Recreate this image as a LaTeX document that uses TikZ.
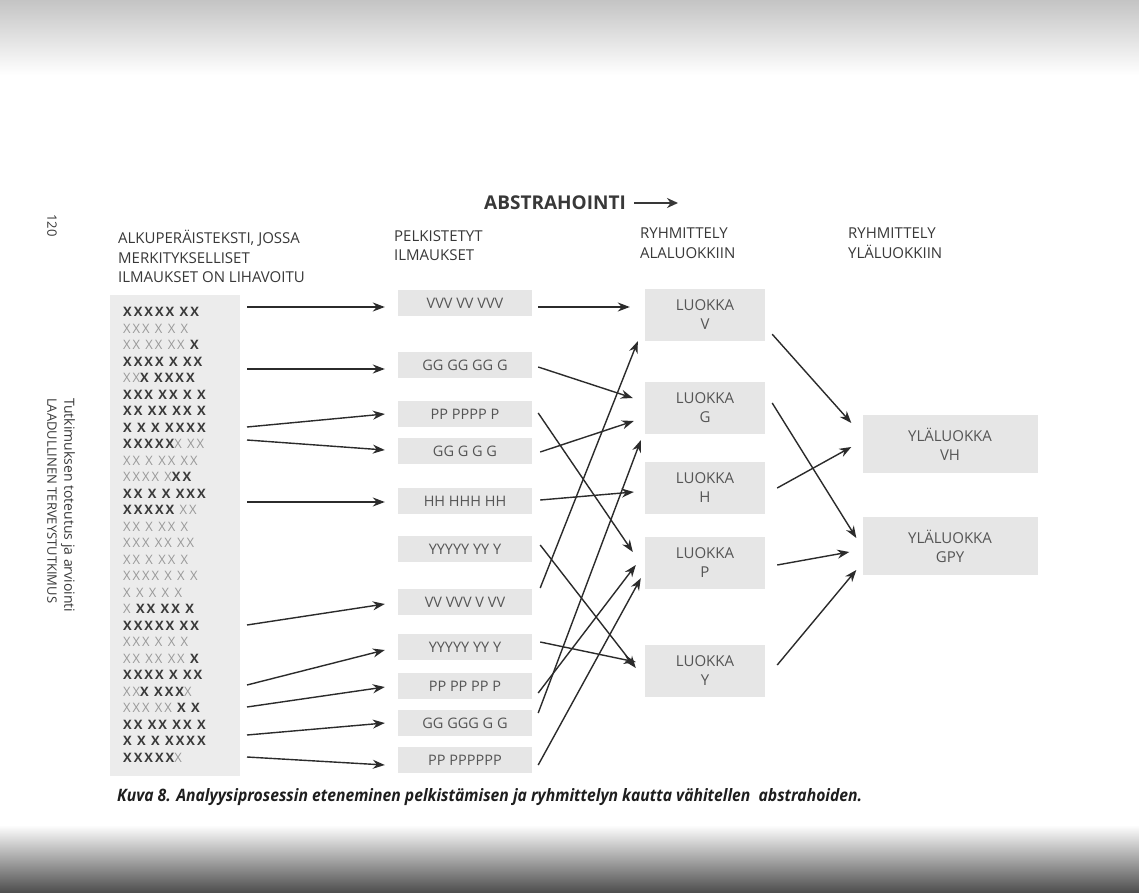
\documentclass[tikz,border=0pt]{standalone}
\usepackage{fontspec}
\setmainfont{Open Sans}
\newfontfamily\xfont[LetterSpace=15]{Open Sans}
\usepackage{graphicx}
\usetikzlibrary{arrows.meta}

\definecolor{boxgray}{HTML}{E6E6E6}
\definecolor{leftgray}{HTML}{ECECEC}
\definecolor{boxtext}{HTML}{555555}
\definecolor{headtext}{HTML}{383838}
\definecolor{xdark}{HTML}{3A3A3A}
\definecolor{xlight}{HTML}{999999}
\definecolor{argray}{HTML}{2B2B2B}
\definecolor{captext}{HTML}{1E1E1E}
\definecolor{topgray}{HTML}{C4C4C4}
\definecolor{botgray}{HTML}{4C4C4C}

\newcommand\bX[1]{{\color{xdark}\bfseries#1}}

\begin{document}
\begin{tikzpicture}[x=1pt, y=-1pt,
    M/.style = {rectangle, fill=boxgray, text=boxtext,% boxes of the middle column
                minimum width=134pt, minimum height=26pt, inner sep=0pt,
                font=\fontsize{14.5}{16}\selectfont},
    L/.style = {rectangle, fill=boxgray, text=boxtext, align=center,% class boxes
                minimum width=120pt, minimum height=52pt, inner sep=0pt,
                font=\fontsize{15}{19}\selectfont},
    U/.style = {L, minimum width=175pt, minimum height=58pt},
    H/.style = {anchor=north west, align=left, text=headtext, inner sep=0pt,
                font=\fontsize{15}{19.5}\selectfont},
    R/.style = {anchor=west, inner sep=0pt, text=xlight,% rows of the original text
                font=\fontsize{13}{14}\xfont},
    S/.style = {rotate=-90, anchor=west, inner sep=0pt, text=headtext,
                font=\fontsize{13}{13}\selectfont},
    A/.style = {-{Stealth[length=12pt,width=9pt]}, line width=1.4pt, draw=argray},
                        ]
\useasboundingbox (0,0) rectangle (1139,893);
\fill[white] (0,0) rectangle (1139,893);
\shade[top color=topgray, bottom color=white] (0,0) rectangle (1139,75);
\shade[top color=white, bottom color=botgray] (0,825) rectangle (1139,893);

% running head
\node[S] (pg)   at (52,214) {120};
\node[S] (run1) at (52,398) {LAADULLINEN TERVEYSTUTKIMUS};
\node[S, font=\fontsize{14}{14}\selectfont] (run2) at (68,398) {Tutkimuksen toteutus ja arviointi};

% headings
\node[anchor=west, inner sep=0pt, text=headtext,
      font=\fontsize{19}{20}\selectfont\bfseries] (abs) at (484,203) {ABSTRAHOINTI};
\coordinate (absend) at (678,203);
\draw[-{Stealth[length=11pt,width=10pt]}, line width=2pt, draw=headtext]
    ([xshift=8pt]abs.east) -- (absend);
\node[H] (h1) at (118,230) {ALKUPERÄISTEKSTI, JOSSA\\MERKITYKSELLISET\\ILMAUKSET ON LIHAVOITU};
\node[H] (h2) at (394,230) {PELKISTETYT\\ILMAUKSET};
\node[H] (h3) at (640,228) {RYHMITTELY\\ALALUOKKIIN};
\node[H] (h4) at (848,228) {RYHMITTELY\\YLÄLUOKKIIN};

% original text
\node[fill=leftgray, minimum width=130pt, minimum height=481pt, inner sep=0pt] (lbox) at (175,535.5) {};
\foreach \t [count=\i] in {{\bX{XXXXX XX}}, {XXX X X X}, {XX XX XX \bX{X}}, {\bX{XXXX X XX}},
    {XX\bX{X XXXX}}, {\bX{XXX XX X X}}, {\bX{XX XX XX X}}, {\bX{X X X XXXX}},
    {\bX{XXXXX}X XX}, {XX X XX XX}, {XXXX X\bX{XX}}, {\bX{XX X X XXX}},
    {\bX{XXXXX} XX}, {XX X XX X}, {XXX XX XX}, {XX X XX X}, {XXXX X X X},
    {X X X X X}, {X \bX{XX XX X}}, {\bX{XXXXX XX}}, {XXX X X X}, {XX XX XX \bX{X}},
    {\bX{XXXX X XX}}, {XX\bX{X XXX}X}, {XXX XX \bX{X X}}, {\bX{XX XX XX X}},
    {\bX{X X X XXXX}}, {\bX{XXXXX}X}}
    \node[R] (x\i) at (123,{312+16.5*(\i-1)}) {\t};

% simplified expressions
\foreach \y/\t [count=\i] in {303/VVV VV VVV, 365/GG GG GG G, 414/PP PPPP P, 451/GG G G G,
    501/HH HHH HH, 549/YYYYY YY Y, 602/VV VVV V VV, 647/YYYYY YY Y,
    686/PP PP PP P, 723/GG GGG G G, 760/PP PPPPPP}
    \node[M] (m\i) at (465,\y) {\t};

% classes
\foreach \y/\c in {315/V, 408/G, 488/H, 563/P, 671/Y}
    \node[L] (l\c) at (705,\y) {LUOKKA\\\c};
\node[U] (uVH)  at (950,444) {YLÄLUOKKA\\VH};
\node[U] (uGPY) at (950,546) {YLÄLUOKKA\\GPY};

% arrows
\foreach \y/\k/\d in {307/1/4, 369/2/4, 427/3/0, 440/4/-1, 502/5/1,
    625/7/2, 685/8/3, 707/9/1, 735/10/0, 757/11/5}{
    \coordinate (s\k) at (247,\y);
    \draw[A] (s\k) -- ([shift={(-13,\d)}]m\k.west);}
\draw[A] ([shift={(6,4)}]m1.east)   -- ([shift={(-15,-8)}]lV.west);
\draw[A] ([shift={(6,2)}]m2.east)   -- ([shift={(-12,-10)}]lG.west);
\draw[A] ([shift={(6,-1)}]m3.east)  -- ([shift={(-12,-11)}]lP.west);
\draw[A] ([shift={(8,1)}]m4.east)   -- ([shift={(-11,13)}]lG.west);
\draw[A] ([shift={(8,-1)}]m5.east)  -- ([shift={(-11,4)}]lH.west);
\draw[A] ([shift={(8,-4)}]m6.east)  -- ([shift={(-9,-3)}]lY.west);
\draw[A] ([shift={(8,-14)}]m7.east) -- ([shift={(-7,0)}]lV.south west);
\draw[A] ([shift={(8,-5)}]m8.east)  -- ([shift={(-9,-9)}]lY.west);
\draw[A] ([shift={(6,7)}]m9.east)   -- ([shift={(-9,2)}]lP.west);
\draw[A] ([shift={(6,-10)}]m10.east) -- ([shift={(-4,6)}]lG.south west);
\draw[A] ([shift={(6,5)}]m11.east)  -- ([shift={(-4,-11)}]lP.south west);
\draw[A] ([shift={(7,-7)}]lV.south east) -- ([shift={(-11,-21)}]uVH.west);
\draw[A] ([shift={(7,-5)}]lG.east)  -- ([shift={(-6,-8)}]uGPY.west);
\draw[A] ([shift={(12,0)}]lH.east)  -- ([shift={(-11,3)}]uVH.west);
\draw[A] ([shift={(12,2)}]lP.east)  -- ([shift={(-13,6)}]uGPY.west);
\draw[A] ([shift={(12,-6)}]lY.east) -- ([shift={(-6,24)}]uGPY.west);

% caption
\node[anchor=west, inner sep=0pt, text=captext] (cap) at (117,797)
    {\resizebox{745pt}{13pt}{\bfseries\itshape Kuva 8. Analyysiprosessin eteneminen pelkistämisen ja ryhmittelyn kautta vähitellen\ \ abstrahoiden.}};
\end{tikzpicture}
\end{document}
